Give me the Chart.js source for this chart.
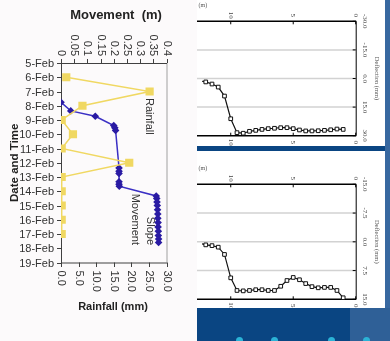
<!DOCTYPE html>
<html><head><meta charset="utf-8">
<script src="https://cdn.jsdelivr.net/npm/chart.js@4.4.1/dist/chart.umd.min.js"></script>
<style>
html,body{margin:0;padding:0;}
body{width:390px;height:341px;overflow:hidden;position:relative;background:#FCFAFB;}
.abs{position:absolute;}
#blue{left:197px;top:0;width:193px;height:341px;background:#0A4582;}
#strip{left:385px;top:0;width:5px;height:341px;background:#3868A0;}
#br{left:350px;top:308px;width:40px;height:33px;background:#2F6097;}
#p1{left:197px;top:0;width:188px;height:146px;background:#fff;}
#p2{left:197px;top:151px;width:188px;height:157px;background:#fff;}
.dot{position:absolute;width:7px;height:7px;border-radius:50%;background:#2BB3D6;top:337px;}
canvas{position:absolute;}
</style></head>
<body>
<div class="abs" id="blue"></div>
<div class="abs" id="strip"></div>
<div class="abs" id="br"></div>
<div class="abs" id="p1"></div>
<div class="abs" id="p2"></div>
<div class="dot" style="left:236px"></div>
<div class="dot" style="left:271px"></div>
<div class="dot" style="left:328px"></div>
<div class="dot" style="left:363px"></div>
<canvas id="c0" width="196" height="341" style="left:0;top:0"></canvas>
<canvas id="c1" width="188" height="146" style="left:197px;top:0"></canvas>
<canvas id="c2" width="188" height="157" style="left:197px;top:151px"></canvas>
<script>
// ---------- Left chart data ----------
const dayValues = [5,6,7,8,9,10,11,12,13,14,15,16,17,18,19];
const dayTicks = ['5-Feb','6-Feb','7-Feb','8-Feb','9-Feb','10-Feb','11-Feb','12-Feb','13-Feb','14-Feb','15-Feb','16-Feb','17-Feb','18-Feb','19-Feb'];
const moveTickValues = [0,0.05,0.1,0.15,0.2,0.25,0.3,0.35,0.4];
const moveTickLabels = ['0','0.05','0.1','0.15','0.2','0.25','0.3','0.35','0.4'];
const rainTickValues = [0,5,10,15,20,25,30];
const rainTickLabels = ['0.0','5.0','10.0','15.0','20.0','25.0','30.0'];

const rainDays = [6,7,8,9,10,11,12,13,14,15,16,17];
const rainfall = [1.5,25.2,6.1,0.2,3.4,0.2,19.4,0.2,0.2,0.2,0.2,0.2];

const moveTimes = [7.76,8.36,8.74,9.39,9.55,9.73,12.36,12.6,12.75,13.33,13.5,13.65,14.33,14.5,14.75,15.0,15.3,15.6,15.9,16.2,16.5,16.8,17.1,17.35,17.6];
const movement  = [0,0.037,0.13,0.2,0.204,0.207,0.22,0.22,0.22,0.22,0.22,0.221,0.361,0.363,0.364,0.365,0.366,0.367,0.367,0.368,0.368,0.369,0.369,0.37,0.37];

// ---------- Right charts data ----------
const depths = [12.5,12,11.5,11,10.5,10,9.5,9,8.5,8,7.5,7,6.5,6,5.5,5,4.5,4,3.5,3,2.5,2,1.5,1];
const depthTickValues = [10,5,0];
const depthTickLabels = ['10','5','0'];
const deflA = [1.2,1.8,2.9,4.5,9.2,21.1,28.4,28.7,27.7,27.2,26.7,26.3,26.1,25.8,25.8,26.3,27.0,27.5,27.5,27.4,27.2,26.9,26.5,26.7];
const deflATickValues = [-30,-15,0,15,30];
const deflATickLabels = ['-30.0','-15.0','0.0','15.0','30.0'];
const deflB = [0.4,0.8,1.0,1.4,3.3,9.4,12.7,12.8,12.7,12.5,12.5,12.7,12.7,11.6,10.1,9.3,9.9,10.9,11.7,12.0,11.9,11.9,12.7,14.6];
const deflBTickValues = [-15,-7.5,0,7.5,15];
const deflBTickLabels = ['-15.0','-7.5','0.0','7.5','15.0'];

function seg(ctx,x1,y1,x2,y2){ctx.beginPath();ctx.moveTo(x1,y1);ctx.lineTo(x2,y2);ctx.stroke();}
function rotText(ctx,txt,x,y,ang,align){ctx.save();ctx.translate(x,y);ctx.rotate(ang);ctx.textAlign=align;ctx.textBaseline='middle';ctx.fillText(txt,0,0);ctx.restore();}

const SANS = '"Liberation Sans", Arial, sans-serif';
const SERIF = '"Liberation Serif", "Times New Roman", serif';

const leftDecor = {
  id:'leftDecor',
  beforeDatasetsDraw(chart){
    const {ctx, chartArea:a, scales} = chart;
    const ys = scales.y, xm = scales.xm, xr = scales.xr;
    ctx.save();
    ctx.lineWidth = 1;
    ctx.strokeStyle = '#a0a0a0';
    seg(ctx, a.right+0.5, a.top, a.right+0.5, a.bottom);
    ctx.strokeStyle = '#404040';
    seg(ctx, a.left+0.5, a.top, a.left+0.5, a.bottom+0.5);
    seg(ctx, a.left, a.top+0.5, a.right+0.5, a.top+0.5);
    seg(ctx, a.left, a.bottom+0.5, a.right+0.5, a.bottom+0.5);
    ctx.fillStyle = '#333';
    ctx.font = '11px ' + SANS;
    dayValues.forEach((d,i)=>{
      const y = Math.round(ys.getPixelForValue(d))+0.5;
      seg(ctx, a.left-4, y, a.left, y);
      ctx.textAlign='right'; ctx.textBaseline='middle';
      ctx.fillText(dayTicks[i], a.left-7, y);
    });
    moveTickValues.forEach((v,i)=>{
      const x = Math.round(xm.getPixelForValue(v))+0.5;
      seg(ctx, x, a.top-4, x, a.top);
      rotText(ctx, moveTickLabels[i], x, a.top-7, Math.PI/2, 'right');
    });
    rainTickValues.forEach((v,i)=>{
      const x = Math.round(xr.getPixelForValue(v))+0.5;
      seg(ctx, x, a.bottom, x, a.bottom+4.5);
      rotText(ctx, rainTickLabels[i], x, a.bottom+8, Math.PI/2, 'left');
    });
    // titles
    ctx.fillStyle = '#222';
    ctx.font = 'bold 13px ' + SANS;
    ctx.textAlign='center'; ctx.textBaseline='middle';
    ctx.fillText('Movement  (m)', 116, 15);
    ctx.font = 'bold 11px ' + SANS;
    ctx.fillText('Rainfall (mm)', 113, 307);
    ctx.font = 'bold 11.5px ' + SANS;
    rotText(ctx, 'Date and Time', 15, (a.top+a.bottom)/2, -Math.PI/2, 'center');
    // annotations
    ctx.fillStyle = '#333';
    ctx.font = '11px ' + SANS;
    rotText(ctx, 'Rainfall', 149, 98, Math.PI/2, 'left');
    rotText(ctx, 'Slope', 150, 245, Math.PI/2, 'right');
    rotText(ctx, 'Movement', 135, 245, Math.PI/2, 'right');
    ctx.restore();
  }
};

new Chart(document.getElementById('c0'), {
  type:'scatter',
  data:{datasets:[
    {label:'Slope Movement', data: moveTimes.map((t,i)=>({x:movement[i], y:t})), xAxisID:'xm', yAxisID:'y',
     showLine:true, borderColor:'#3A2FC4', borderWidth:1.5, pointStyle:'rectRot', pointRadius:3.8,
     pointBackgroundColor:'#2A1BA3', pointBorderColor:'#2A1BA3', pointBorderWidth:0, order:2},
    {label:'Rainfall', data: rainDays.map((d,i)=>({x:rainfall[i], y:d})), xAxisID:'xr', yAxisID:'y',
     showLine:true, borderColor:'#F0D862', borderWidth:1.5, pointStyle:'rect', pointRadius:5.8,
     pointBackgroundColor:'#F0D862', pointBorderColor:'#F0D862', pointBorderWidth:0, order:1}
  ]},
  options:{
    responsive:false, animation:false, devicePixelRatio:1,
    layout:{padding:{left:61, top:63, right:196-166.5, bottom:341-262.5}},
    plugins:{legend:{display:false}, tooltip:{enabled:false}},
    elements:{line:{tension:0}},
    scales:{
      xm:{type:'linear', position:'top', min:0, max:0.4, display:false},
      xr:{type:'linear', position:'bottom', min:0, max:30, display:false},
      y:{type:'linear', min:5, max:19, reverse:true, display:false}
    }
  },
  plugins:[leftDecor]
});

function rightDecor(yTickValues, yTickLabels){
  return {
    id:'rightDecor',
    beforeDatasetsDraw(chart){
      const {ctx, chartArea:a, scales} = chart;
      const xs = scales.x, ys = scales.y;
      ctx.save();
      // grid lines (interior)
      ctx.strokeStyle = '#d2d2d2'; ctx.lineWidth = 1.5;
      yTickValues.slice(1,-1).forEach(v=>{
        const y = ys.getPixelForValue(v);
        seg(ctx, 0, y, a.right, y);
      });
      ctx.strokeStyle = '#000'; ctx.lineWidth = 1.5;
      seg(ctx, 0, a.top, a.right+0.5, a.top);
      seg(ctx, 0, a.bottom, a.right+0.5, a.bottom);
      ctx.lineWidth = 1;
      seg(ctx, a.right+0.5, a.top, a.right+0.5, a.bottom);
      ctx.fillStyle = '#444';
      ctx.font = '7px ' + SERIF;
      yTickValues.forEach((v,i)=>{
        const y = ys.getPixelForValue(v);
        seg(ctx, a.right-3, y, a.right, y);
        rotText(ctx, yTickLabels[i], a.right+9.5, y, Math.PI/2, 'center');
      });
      depthTickValues.forEach((v,i)=>{
        const x = xs.getPixelForValue(v);
        seg(ctx, x, a.top, x, a.top+3);
        seg(ctx, x, a.bottom-3, x, a.bottom);
        rotText(ctx, depthTickLabels[i], x, a.top-6, Math.PI/2, 'center');
        rotText(ctx, depthTickLabels[i], x, a.bottom+6.5, Math.PI/2, 'center');
      });
      ctx.font = '6.5px ' + SERIF;
      ctx.fillStyle = '#555';
      rotText(ctx, 'Deflection (mm)', a.right+21, (a.top+a.bottom)/2, Math.PI/2, 'center');
      ctx.font = '6px ' + SERIF;
      ctx.textAlign='left'; ctx.textBaseline='middle';
      ctx.fillText('(m)', 1.5, a.top-15.5);
      ctx.restore();
    }
  };
}

function rightChart(id, defl, yMin, yMax, top, bottom, h, yTV, yTL){
  new Chart(document.getElementById(id), {
    type:'scatter',
    data:{datasets:[{label:'Deflection', data: depths.map((d,i)=>({x:d, y:defl[i]})),
      showLine:true, borderColor:'#111', borderWidth:1.2, pointStyle:'rect', pointRadius:2.6,
      pointBackgroundColor:'#fff', pointBorderColor:'#111', pointBorderWidth:1}]},
    options:{
      responsive:false, animation:false, devicePixelRatio:1,
      layout:{padding:{left:0, right:188-158.7, top:top, bottom:h-bottom}},
      plugins:{legend:{display:false}, tooltip:{enabled:false}},
      elements:{line:{tension:0}},
      scales:{
        x:{type:'linear', min:0, max:12.3, reverse:true, display:false},
        y:{type:'linear', min:yMin, max:yMax, reverse:true, display:false}
      }
    },
    plugins:[rightDecor(yTV, yTL)]
  });
}
rightChart('c1', deflA, -30, 30, 21.3, 135.7, 146, deflATickValues, deflATickLabels);
rightChart('c2', deflB, -15, 15, 33.3, 148.3, 157, deflBTickValues, deflBTickLabels);
</script>
</body></html>
